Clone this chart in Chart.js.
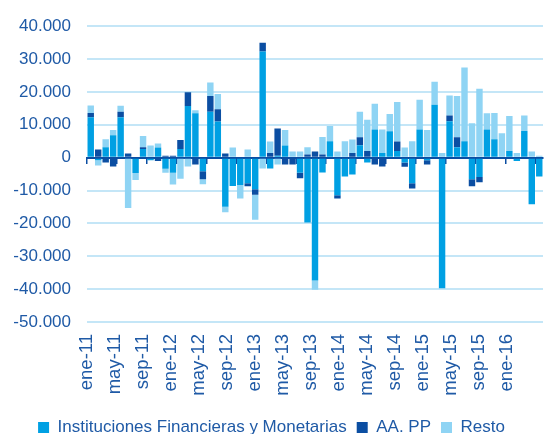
<!DOCTYPE html>
<html>
<head>
<meta charset="utf-8">
<script src="https://cdn.jsdelivr.net/npm/chart.js@4/dist/chart.umd.min.js"></script>
<style>
html,body{margin:0;padding:0;background:#fff;}
#wrap{width:560px;height:434px;position:relative;}
</style>
</head>
<body>
<div id="wrap"><canvas id="c" width="560" height="434"></canvas></div>
<script>
const months = [
 "ene-11","feb-11","mar-11","abr-11","may-11","jun-11","jul-11","ago-11","sep-11","oct-11","nov-11","dic-11",
 "ene-12","feb-12","mar-12","abr-12","may-12","jun-12","jul-12","ago-12","sep-12","oct-12","nov-12","dic-12",
 "ene-13","feb-13","mar-13","abr-13","may-13","jun-13","jul-13","ago-13","sep-13","oct-13","nov-13","dic-13",
 "ene-14","feb-14","mar-14","abr-14","may-14","jun-14","jul-14","ago-14","sep-14","oct-14","nov-14","dic-14",
 "ene-15","feb-15","mar-15","abr-15","may-15","jun-15","jul-15","ago-15","sep-15","oct-15","nov-15","dic-15",
 "ene-16"
];
const tickLabels = ["ene-11","may-11","sep-11","ene-12","may-12","sep-12","ene-13","may-13","sep-13","ene-14","may-14","sep-14","ene-15","may-15","sep-15","ene-16"];

const ifm = [
 12300,-800,3200,6800,12300,0,-4700,2600,-800,3100,-3400,-4600,
 2600,15700,13500,-4100,14000,11000,-14900,-8600,-8300,-7800,-9600,32300,
 -3300,600,3700,0,-4600,-19700,-37400,-4500,5000,-11400,-5700,-5100,
 3800,-1500,8600,1400,8000,2000,-1500,-7800,8600,-800,16100,-39700,
 11100,3200,5000,-6600,-5900,8600,5600,0,2000,-1000,8100,-14200,
 -5700
];
const aapp = [
 1300,2500,-1500,-2700,1700,1300,0,600,0,-1000,600,600,
 2800,4200,-2100,-2500,4800,3700,1300,0,0,-900,-1700,2700,
 1400,8300,-2100,-2100,-1700,1000,1900,1000,0,-1000,0,1400,
 2400,2000,-2100,-2700,0,2900,-1300,-1600,0,-1300,0,0,
 1700,3000,0,-2100,-1600,0,0,0,0,0,0,0,
 0
];
const resto = [
 2300,-1600,2400,1600,1800,-15300,-2100,3400,3700,1200,-1200,-3600,
 -6400,-2700,900,-1500,4100,4700,-1700,3100,-4100,2500,-7600,-3300,
 3500,-2100,4700,1900,1900,2200,-2800,5300,4600,1900,5000,4100,
 7800,9500,7800,7200,5300,12000,3100,5000,9000,8400,7000,1400,
 6100,12600,22400,10500,21000,4900,8000,7400,10700,1400,4700,1900,
 600
];

const seriesNames = ["Instituciones Financieras y Monetarias","AA. PP","Resto"];
const yMin = -50000, yMax = 40000, yStep = 10000;

// label axis: 114 slots across the plot, a label every 7 slots
const SLOTS = 114, LABEL_EVERY = 7;
const slotLabels = Array.from({length: SLOTS + 1}, (_, i) =>
  (i % LABEL_EVERY === 0 && tickLabels[i / LABEL_EVERY] !== undefined) ? tickLabels[i / LABEL_EVERY] : '');

const TXT = '#1f5aa6';
const FONT = "'Liberation Sans', Arial, sans-serif";

function fmt(v){
  const s = Math.abs(v).toString().replace(/\B(?=(\d{3})+(?!\d))/g,'.');
  return (v<0?'-':'') + s;
}

new Chart(document.getElementById('c'), {
  type: 'bar',
  data: {
    labels: months,
    datasets: [
      {label: seriesNames[0], data: ifm, backgroundColor: '#00a0e3'},
      {label: seriesNames[1], data: aapp, backgroundColor: '#0b4ea2'},
      {label: seriesNames[2], data: resto, backgroundColor: '#8fd4f4'}
    ]
  },
  options: {
    responsive: false,
    animation: false,
    events: [],
    datasets: { bar: { categoryPercentage: 1, barPercentage: 0.86 } },
    layout: { padding: { top: 24, right: 17, bottom: -12, left: 0 } },
    plugins: {
      tooltip: { enabled: false },
      legend: {
        position: 'bottom',
        labels: {
          color: TXT,
          font: { family: FONT, size: 17 },
          boxWidth: 11, boxHeight: 11, padding: 10
        }
      }
    },
    scales: {
      x: {
        type: 'category',
        stacked: true,
        position: { y: 0 },
        z: 1,
        ticks: { display: false, autoSkip: false },
        grid: {
          offset: true,
          drawOnChartArea: false,
          drawTicks: true,
          tickLength: 5,
          lineWidth: 1.5,
          color: (ctx) => (ctx.index !== undefined && ctx.index % 4 === 0) ? '#0b4ea2' : 'rgba(0,0,0,0)'
        },
        border: { display: true, color: '#0b4ea2', width: 2 }
      },
      xl: {
        type: 'category',
        axis: 'x',
        position: 'bottom',
        labels: slotLabels,
        offset: false,
        afterFit: (scale) => { scale.height = 87; scale.paddingLeft = 0; scale.paddingRight = 0; },
        ticks: {
          autoSkip: false,
          minRotation: 90, maxRotation: 90,
          padding: 12,
          color: TXT,
          font: { family: FONT, size: 18.5 }
        },
        grid: { display: false, drawTicks: false },
        border: { display: false }
      },
      y: {
        stacked: true,
        min: yMin, max: yMax,
        afterFit: (scale) => { scale.width = 87; },
        ticks: {
          stepSize: yStep,
          padding: 16,
          color: TXT,
          font: { family: FONT, size: 17 },
          callback: (v) => fmt(v)
        },
        grid: { color: '#c4e6f7', lineWidth: 2, drawTicks: false },
        border: { display: false }
      }
    }
  }
});
</script>
</body>
</html>
